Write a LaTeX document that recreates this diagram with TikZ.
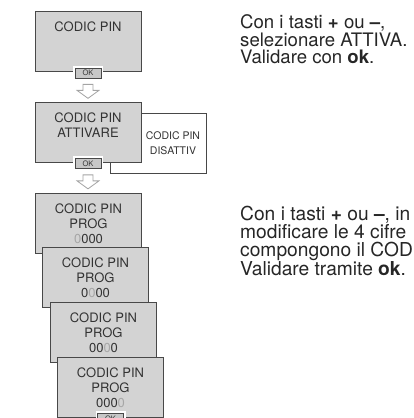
\documentclass[tikz,border=0pt]{standalone}
\usepackage{fontspec}
\setmainfont{TeX Gyre Heros}
\usepackage{xcolor}
\usetikzlibrary{positioning, calc}
\definecolor{screengray}{HTML}{D3D3D3}
\definecolor{framegray}{HTML}{484848}
\definecolor{digitgray}{HTML}{A6A6A6}
\definecolor{arrowgray}{HTML}{A4A4A4}
\tikzstyle{screen} = [draw=framegray, fill=screengray, line width=0.9pt, minimum width=106pt, minimum height=60pt, inner sep=0pt]
\tikzstyle{screentext} = [anchor=north, inner sep=0pt, align=center, text=black!80, font=\fontsize{13}{15}\selectfont]
\tikzstyle{okkey} = [preaction={draw=white, line width=4pt}, draw=framegray, fill=black!22, line width=0.8pt, minimum width=26pt, minimum height=10pt, inner sep=0pt, font=\fontsize{7.5}{8}\selectfont, text=black!80]
\tikzstyle{hint} = [anchor=north west, inner sep=0pt, align=left, text=black!85, font=\fontsize{18.6}{17.5}\selectfont]
\newcommand{\flowarrow}[1]{\draw[draw=arrowgray, fill=white, line width=0.8pt] ($(#1)+(-5,0)$) -- ++(10,0) -- ++(0,6) -- ++(6,0) -- ($(#1)+(0,14)$) -- ($(#1)+(-11,6)$) -- ++(6,0) -- cycle;}

\begin{document}
\begin{tikzpicture}[x=1pt, y=-1pt]
  \useasboundingbox (0,0) rectangle (414,418);
  \clip (0,0) rectangle (414,418);

  % first screen
  \node[screen] (s1) at (88,41.5) {};
  \node[screentext] (t1) at ($(s1.north)+(0,11)$) {CODIC PIN};
  \node[okkey] (ok1) at ($(s1.south)+(0,1)$) {OK};
  \coordinate (a1) at ($(ok1.south)+(0,6)$);
  \flowarrow{a1}

  % activate / deactivate
  \node[draw=framegray, fill=white, line width=0.9pt, minimum width=96pt, minimum height=60pt, inner sep=0pt] (dis) at (158,143) {};
  \node[screentext, anchor=center, font=\fontsize{10.5}{15}\selectfont] (tdis) at (173,143) {CODIC PIN\\DISATTIV};
  \node[screen] (s2) at (88,132) {};
  \node[screentext] (t2) at ($(s2.north)+(0,11)$) {CODIC PIN\\ATTIVARE};
  \node[okkey] (ok2) at ($(s2.south)+(0,1)$) {OK};
  \coordinate (a2) at ($(ok2.south)+(0,6)$);
  \flowarrow{a2}

  % code entry, one digit at a time
  \node[screen] (s3) at (88.5,223) {};
  \node[screentext] (t3) at ($(s3.north)+(0,11)$) {CODIC PIN\\PROG\\{\color{digitgray}0}000};
  \node[screen] (s4) at (95.5,277) {};
  \node[screentext] (t4) at ($(s4.north)+(0,11)$) {CODIC PIN\\PROG\\0{\color{digitgray}0}00};
  \node[screen] (s5) at (103.5,332) {};
  \node[screentext] (t5) at ($(s5.north)+(0,11)$) {CODIC PIN\\PROG\\00{\color{digitgray}0}0};
  \node[screen] (s6) at (110.5,387) {};
  \node[screentext] (t6) at ($(s6.north)+(0,11)$) {CODIC PIN\\PROG\\000{\color{digitgray}0}};
  \node[okkey] (ok6) at ($(s6.south)+(0,1)$) {OK};

  % instructions
  \node[hint] (h1) at (240,14.5) {Con i tasti \textbf{+} ou \textbf{–},\\selezionare ATTIVA.\\Validare con \textbf{ok}.};
  \node[hint, font=\fontsize{19.2}{18}\selectfont] (h2) at (240,206) {Con i tasti \textbf{+} ou \textbf{–}, in\\modificare le 4 cifre\\compongono il COD\\Validare tramite \textbf{ok}.};
\end{tikzpicture}
\end{document}
